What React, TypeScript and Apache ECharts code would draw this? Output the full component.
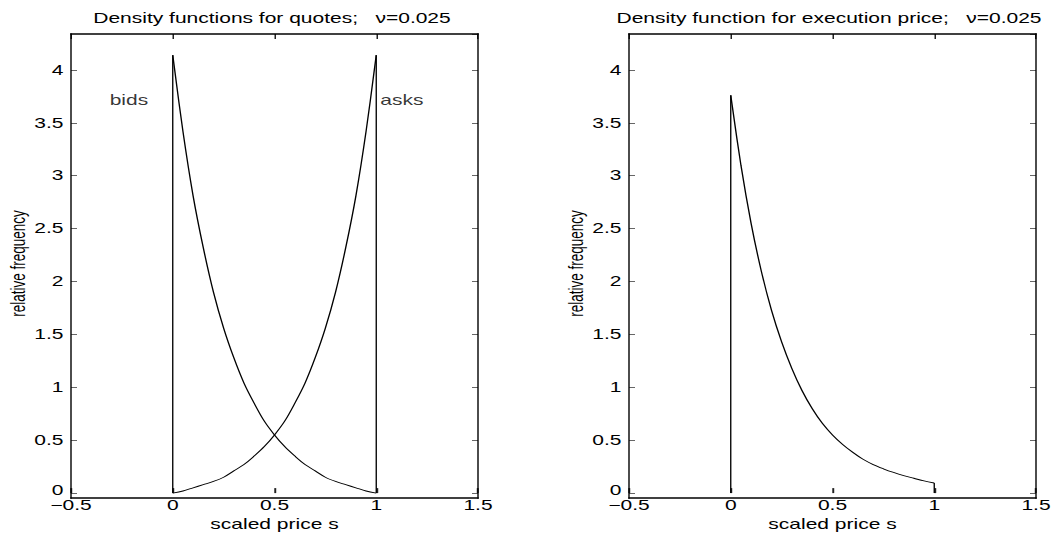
import React, { useEffect, useRef } from "react";
import * as echarts from "echarts";

// scaled price grid
const S_GRID = [0, 0.05, 0.1, 0.15, 0.2, 0.25, 0.3, 0.35, 0.4, 0.45, 0.5, 0.55, 0.6, 0.65, 0.7, 0.75, 0.8, 0.85, 0.9, 0.95, 1.0];
// density of bids (left panel)
const BIDS = [4.14, 3.42, 2.81, 2.32, 1.9, 1.56, 1.28, 1.04, 0.85, 0.68, 0.55, 0.44, 0.35, 0.27, 0.21, 0.15, 0.11, 0.08, 0.05, 0.02, 0.0];
// density of asks (left panel)
const ASKS = [0.0, 0.02, 0.05, 0.08, 0.11, 0.15, 0.21, 0.27, 0.35, 0.44, 0.55, 0.68, 0.85, 1.04, 1.28, 1.56, 1.9, 2.32, 2.81, 3.42, 4.14];
// density of execution price (right panel)
const EXEC = [3.76, 3.1, 2.55, 2.1, 1.73, 1.43, 1.18, 0.97, 0.8, 0.66, 0.55, 0.46, 0.385, 0.32, 0.27, 0.23, 0.195, 0.165, 0.14, 0.115, 0.095];

const X_TICKS = [-0.5, 0, 0.5, 1, 1.5];
const Y_TICKS = [0, 0.5, 1, 1.5, 2, 2.5, 3, 3.5, 4];
const TITLES = ["Density functions for quotes;   \u03bd=0.025", "Density function for execution price;   \u03bd=0.025"];
const X_NAME = "scaled price s";
const Y_NAME = "relative frequency";
const NOTES = ["bids", "asks"];

const X_MIN = X_TICKS[0];
const X_MAX = X_TICKS[X_TICKS.length - 1];
const Y_MIN = Y_TICKS[0];
const Y_MAX = 4.34;

const SX = 1.5; // horizontal stretch of the whole figure
const FULL_W = 1061;
const FULL_H = 536;
const FONT = "'Liberation Sans', Arial, Helvetica, sans-serif";
const FS = 14;

const fmt = (v: number) => {
  const s = String(Math.round(v * 1000) / 1000);
  return s.startsWith("-") ? "\u2212" + s.slice(1) : s;
};

export default function App() {
  const ref = useRef<HTMLDivElement>(null);
  useEffect(() => {
    if (!ref.current) return;
    const chart = echarts.init(ref.current, null, { renderer: "svg" });

    const gridLefts = [71 / SX, 629 / SX];
    const gridW = 407 / SX;
    const top = 34;
    const gridH = 464;
    const bottom = FULL_H - top - gridH;

    const textStyle = { fontFamily: FONT, fontSize: FS, color: "#000" };

    const xAxes: any[] = [];
    const yAxes: any[] = [];
    [0, 1].forEach((g) => {
      xAxes.push({
        type: "value", gridIndex: g, position: "bottom", min: X_MIN, max: X_MAX, interval: 0.5,
        axisLine: { show: false, onZero: false },
        axisTick: { show: true, inside: true, length: 5, lineStyle: { color: "#222", width: 1.3 } },
        axisLabel: { show: true, margin: 5, formatter: (v: number) => fmt(v), ...textStyle },
        splitLine: { show: false },
        name: X_NAME, nameLocation: "middle", nameGap: 20,
        nameTextStyle: { ...textStyle, align: "center" },
      });
      xAxes.push({
        type: "value", gridIndex: g, position: "top", min: X_MIN, max: X_MAX, interval: 0.5,
        axisLine: { show: false, onZero: false },
        axisTick: { show: true, inside: true, length: 5, lineStyle: { color: "#222", width: 1 } },
        axisLabel: { show: false },
        splitLine: { show: false },
      });
      yAxes.push({
        type: "value", gridIndex: g, position: "left", min: Y_MIN, max: Y_MAX, interval: 0.5,
        axisLine: { show: false, onZero: false },
        axisTick: { show: true, inside: true, length: 4, lineStyle: { color: "#666", width: 1 } },
        axisLabel: {
          show: true, margin: 5, showMaxLabel: false,
          formatter: (v: number) => (Y_TICKS.includes(v) ? (v === 0 ? "{z|0}" : fmt(v)) : ""),
          rich: { z: { ...textStyle, padding: [0, 0, 5, 0] } },
          ...textStyle,
        },
        splitLine: { show: false },
        name: Y_NAME, nameLocation: "middle", nameRotate: 90, nameGap: 28,
        nameTextStyle: { ...textStyle, fontSize: 13.5 },
      });
      yAxes.push({
        type: "value", gridIndex: g, position: "right", min: Y_MIN, max: Y_MAX, interval: 0.5,
        axisLine: { show: false, onZero: false },
        axisTick: { show: true, inside: true, length: 4, lineStyle: { color: "#666", width: 1 } },
        axisLabel: { show: false },
        splitLine: { show: false },
      });
    });

    const line = (data: number[][], xi: number, yi: number, smooth: boolean, width = 0.9) => ({
      type: "line", xAxisIndex: xi, yAxisIndex: yi, data,
      smooth: smooth ? 0.35 : false,
      symbol: "none", clip: false,
      lineStyle: { color: "#000", width },
    });

    const bidsCurve = S_GRID.map((s, i) => [s, BIDS[i]]);
    const asksCurve = S_GRID.map((s, i) => [s, ASKS[i]]);
    const execCurve = S_GRID.map((s, i) => [s, EXEC[i]]);
    const s0 = S_GRID[0];
    const s1 = S_GRID[S_GRID.length - 1];

    const note = (txt: string, x: number, y: number) => ({
      type: "scatter", xAxisIndex: 0, yAxisIndex: 0, symbolSize: 0,
      data: [[x, y]],
      label: { show: true, position: "right", distance: 0, formatter: txt, ...textStyle },
    });

    // frame of each axes box, drawn as thin filled bars on a top layer
    const T = 1.4; // frame thickness (vertical px)
    const TX = T / SX; // frame thickness in pre-stretch px
    const frame: any[] = [];
    gridLefts.forEach((l) => {
      const bars = [
        { x: l - TX / 2, y: top - T / 2, width: gridW + TX, height: T },
        { x: l - TX / 2, y: top + gridH - T / 2, width: gridW + TX, height: T },
        { x: l - TX / 2, y: top - T / 2, width: TX, height: gridH + T },
        { x: l + gridW - TX / 2, y: top - T / 2, width: TX, height: gridH + T },
      ];
      bars.forEach((b) => {
        frame.push({ type: "rect", zlevel: 5, z: 1000, silent: true, shape: b, style: { fill: "#000" } });
      });
    });

    chart.setOption({
      animation: false,
      title: [0, 1].map((g) => ({
        text: TITLES[g],
        left: g === 0 ? 272 / SX : 829 / SX,
        top: 11,
        padding: 0,
        textAlign: "center",
        textStyle: { ...textStyle, fontWeight: "normal" },
      })),
      grid: gridLefts.map((l) => ({
        left: l, top, width: gridW, bottom,
      })),
      xAxis: xAxes,
      yAxis: yAxes,
      graphic: frame,
      series: [
        line(bidsCurve, 0, 0, true),
        line([[s0, 0], [s0, BIDS[0]]], 0, 0, false),
        line(asksCurve, 0, 0, true),
        line([[s1, 0], [s1, ASKS[ASKS.length - 1]]], 0, 0, false),
        line(execCurve, 2, 2, true),
        line([[s0, 0], [s0, EXEC[0]]], 2, 2, false),
        line([[s1, EXEC[EXEC.length - 1]], [s1, 0]], 2, 2, false),
        note(NOTES[0], -0.31, 3.71),
        note(NOTES[1], 1.02, 3.71),
      ],
    });
    return () => chart.dispose();
  }, []);

  return (
    <div
      ref={ref}
      style={{
        position: "absolute",
        left: 0,
        top: 0,
        width: FULL_W / SX,
        height: FULL_H,
        transform: `scaleX(${SX})`,
        transformOrigin: "0 0",
      }}
    />
  );
}
